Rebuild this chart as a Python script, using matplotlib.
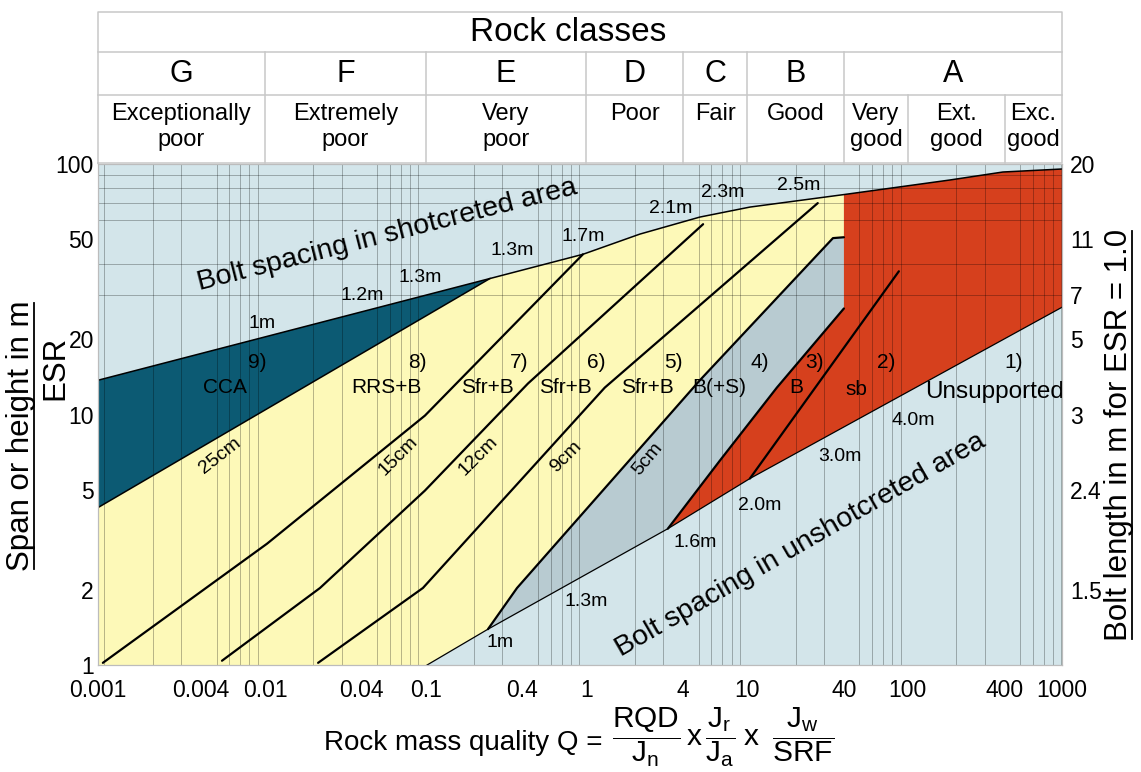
import matplotlib
matplotlib.use('Agg')
import matplotlib.pyplot as plt
from matplotlib.ticker import FixedLocator, FixedFormatter, NullFormatter

plt.rcParams['font.family'] = ['Liberation Sans', 'DejaVu Sans']
plt.rcParams['mathtext.fontset'] = 'custom'
plt.rcParams['mathtext.rm'] = 'Liberation Sans'
plt.rcParams['mathtext.it'] = 'Liberation Sans:italic'
plt.rcParams['mathtext.bf'] = 'Liberation Sans:bold'

W, H = 1141, 772

# Q at the left / right frame edge, span/ESR at bottom / top
Q_MIN, Q_MAX = 0.000914, 910
S_MIN, S_MAX = 1, 100

# upper boundary (bolt spacing in shotcreted area)
top_q = [Q_MIN, 0.251, 0.951, 2.15, 5.08, 10.4, 40, 182, 390, Q_MAX]
top_s = [13.7, 34.9, 43.6, 52.5, 61.4, 67.3, 75.5, 86.3, 92.9, 95.5]
# lower edge of the CCA zone
cca_q = [Q_MIN, 0.251]
cca_s = [4.25, 34.9]
# lower boundary (bolt spacing in unshotcreted area)
low_q = [0.102, 0.244, 3.21, 10.4, Q_MAX]
low_s = [1.0, 1.39, 3.5, 5.55, 26.8]
# shotcrete thickness lines
l15_q = [0.00098, 0.0103, 0.0989, 0.951]
l15_s = [1.02, 3.05, 9.9, 43.6]
l12_q = [0.0054, 0.022, 0.0989, 0.433, 5.32]
l12_s = [1.04, 2.03, 4.97, 13.3, 57.5]
l9_q = [0.0214, 0.0961, 1.30, 27.5]
l9_s = [1.02, 2.03, 12.8, 69.8]
l5_q = [0.244, 0.37, 5.08, 34.2, 40]
l5_s = [1.39, 2.03, 13.7, 50.6, 51.0]
# systematic bolting (3) and spot bolting (2)
b_q = [3.21, 6.77, 15.3, 40]
b_s = [3.5, 6.55, 12.8, 26.5]
sb_q = [10.4, 87.9]
sb_s = [5.55, 37.3]

# axis ticks
x_ticks = [Q_MIN, 0.004, 0.01, 0.04, 0.1, 0.4, 1, 4, 10, 40, 100, 400, Q_MAX]
x_labels = ['0.001', '0.004', '0.01', '0.04', '0.1', '0.4', '1', '4', '10', '40', '100', '400', '1000']
y_ticks = [1, 2, 5, 10, 20, 50, 100]
y_grid = [2, 5, 10, 20, 30, 40, 50, 60, 70, 80, 90]
bolt_pos = [2, 5, 10, 20, 30, 50, 100]
bolt_len = ['1.5', '2.4', '3', '5', '7', '11', '20']

# rock class header
class_edges = [Q_MIN, 0.01, 0.1, 1, 4, 10, 40, Q_MAX]
class_letters = ['G', 'F', 'E', 'D', 'C', 'B', 'A']
desc_edges = [Q_MIN, 0.01, 0.1, 1, 4, 10, 40, 100, 400, Q_MAX]
desc_labels = ['Exceptionally\npoor', 'Extremely\npoor', 'Very\npoor', 'Poor', 'Fair',
               'Good', 'Very\ngood', 'Ext.\ngood', 'Exc.\ngood']

BG = '#d3e5ea'
TEAL = '#0c5a73'
YELLOW = '#fdf9b8'
GREY = '#b8cbd1'
RED = '#d6401d'

fig = plt.figure(figsize=(W / 100, H / 100), dpi=100)
ax = fig.add_axes([98 / W, (H - 665) / H, 964 / W, 501 / H])
ax.set_xscale('log')
ax.set_yscale('log')
ax.set_xlim(Q_MIN, Q_MAX)
ax.set_ylim(S_MIN, S_MAX)
ax.set_facecolor(BG)

# zones
ax.fill(cca_q[:1] + top_q[:2], cca_s[:1] + top_s[:2], color=TEAL, lw=0)
ax.fill(top_q[1:7] + l5_q[::-1] + [low_q[0], Q_MIN, Q_MIN],
        top_s[1:7] + l5_s[::-1] + [low_s[0], S_MIN, cca_s[0]], color=YELLOW, lw=0)
ax.fill(l5_q + b_q[::-1], l5_s + b_s[::-1], color=GREY, lw=0)
ax.fill(b_q + top_q[6:] + low_q[2:][::-1], b_s + top_s[6:] + low_s[2:][::-1], color=RED, lw=0)

# boundary lines
ax.plot(top_q, top_s, color='k', lw=1.1)
ax.plot(low_q, low_s, color='k', lw=0.9)
ax.plot(cca_q, cca_s, color='k', lw=1.1)
for qs, ss in [(l15_q, l15_s), (l12_q, l12_s), (l9_q, l9_s), (l5_q, l5_s), (b_q, b_s), (sb_q, sb_s)]:
    ax.plot(qs, ss, color='k', lw=1.6, solid_capstyle='round')

# grid
minor_x = [m * 10.0 ** e for e in range(-4, 3) for m in range(1, 10)]
minor_x = [q for q in minor_x if Q_MIN < q < Q_MAX]
ax.xaxis.set_minor_locator(FixedLocator(minor_x))
ax.yaxis.set_minor_locator(FixedLocator(y_grid))
ax.xaxis.set_minor_formatter(NullFormatter())
ax.yaxis.set_minor_formatter(NullFormatter())
ax.grid(True, which='minor', color='k', alpha=0.28, lw=0.7)

ax.set_xticks(x_ticks)
ax.set_xticklabels(x_labels)
ax.set_yticks(y_ticks)
ax.set_yticklabels([str(v) for v in y_ticks])
ax.tick_params(which='both', length=0)
ax.tick_params(axis='x', labelsize=16.5, pad=10)
ax.tick_params(axis='y', labelsize=16.5, pad=3)
for sp in ax.spines.values():
    sp.set_color('#bcbcbc')

ax2 = ax.twinx()
ax2.set_yscale('log')
ax2.set_ylim(S_MIN, S_MAX)
ax2.yaxis.set_major_locator(FixedLocator(bolt_pos))
ax2.yaxis.set_major_formatter(FixedFormatter(bolt_len))
ax2.yaxis.set_minor_formatter(NullFormatter())
ax2.tick_params(which='both', length=0, labelsize=16.5, pad=6)
for sp in ax2.spines.values():
    sp.set_color('#bcbcbc')

# labels inside the chart
spacing_labels = [('1m', 0.00954, 23.1), ('1.2m', 0.040, 29.9), ('1.3m', 0.092, 35.3),
                  ('1.3m', 0.3455, 45.3), ('1.7m', 0.955, 51.5), ('2.1m', 3.34, 66.5),
                  ('2.3m', 7.0, 77.1), ('2.5m', 21.0, 82.4),
                  ('1m', 0.29, 1.228), ('1.3m', 1.0, 1.80), ('1.6m', 4.73, 3.085),
                  ('2.0m', 12.0, 4.325), ('3.0m', 37.8, 6.8), ('4.0m', 108, 9.46)]
for txt, q, s in spacing_labels:
    ax.text(q, s, txt, fontsize=14, ha='center', va='center')

class_labels = [('9)', 0.00892, 16.1), ('CCA', 0.00564, 12.8), ('8)', 0.0882, 16.1),
                ('RRS+B', 0.0572, 12.8), ('7)', 0.382, 16.1), ('Sfr+B', 0.2415, 12.8),
                ('6)', 1.157, 16.1), ('Sfr+B', 0.735, 12.8), ('5)', 3.47, 16.1),
                ('Sfr+B', 2.39, 12.8), ('4)', 12.0, 16.1), ('B(+S)', 6.66, 12.8),
                ('3)', 26.2, 16.1), ('B', 20.1, 12.8), ('2)', 73.7, 16.1), ('sb', 48.0, 12.56),
                ('1)', 452, 16.1)]
for txt, q, s in class_labels:
    ax.text(q, s, txt, fontsize=15, ha='center', va='center')
ax.text(348, 12.3, 'Unsupported', fontsize=17.5, ha='center', va='center')

thick_labels = [('25cm', 0.00525, 6.85, 38), ('15cm', 0.0675, 6.85, 45),
                ('12cm', 0.2123, 6.85, 45), ('9cm', 0.7423, 6.8, 45), ('5cm', 2.42, 6.65, 50)]
for txt, q, s, rot in thick_labels:
    ax.text(q, s, txt, fontsize=14, ha='center', va='center', rotation=rot,
            rotation_mode='anchor')

ax.text(0.0574, 52.0, 'Bolt spacing in shotcreted area', fontsize=20.5, ha='center',
        va='center', rotation=14.3, rotation_mode='anchor')
ax.text(21.4, 3.02, 'Bolt spacing in unshotcreted area', fontsize=20.5, ha='center',
        va='center', rotation=30, rotation_mode='anchor')

# header table
hx = fig.add_axes([98 / W, (H - 163) / H, 964 / W, 151 / H])
hx.set_xscale('log')
hx.set_xlim(Q_MIN, Q_MAX)
hx.set_ylim(0, 1)
hx.axis('off')
ROW_DESC, ROW_LET = 0.45, 0.735
lkw = dict(color='#c8c8c8', lw=1.1, clip_on=False)
hx.plot([Q_MIN, Q_MAX, Q_MAX, Q_MIN, Q_MIN], [0, 0, 1, 1, 0], **lkw)
hx.plot([Q_MIN, Q_MAX], [ROW_DESC, ROW_DESC], **lkw)
hx.plot([Q_MIN, Q_MAX], [ROW_LET, ROW_LET], **lkw)
for q in class_edges[1:-1]:
    hx.plot([q, q], [0, ROW_LET], **lkw)
for q in desc_edges[7:-1]:
    hx.plot([q, q], [0, ROW_DESC], **lkw)
hx.text((Q_MIN * Q_MAX) ** 0.5 * 0.85, 0.862, 'Rock classes', fontsize=24, ha='center', va='center')
for i, let in enumerate(class_letters):
    qc = (class_edges[i] * class_edges[i + 1]) ** 0.5
    hx.text(qc, 0.59, let, fontsize=22, ha='center', va='center')
for i, d in enumerate(desc_labels):
    qc = (desc_edges[i] * desc_edges[i + 1]) ** 0.5
    hx.text(qc, 0.395, d, fontsize=17, ha='center', va='top', linespacing=1.22)

# axis titles
span_t = fig.text(21 / W, 0.435, 'Span or height in m', fontsize=22.5, rotation=90,
                  ha='center', va='center')
fig.text(55 / W, 0.523, 'ESR', fontsize=22.5, rotation=90, ha='center', va='center')
bolt_t = fig.text(1119 / W, 0.4365, 'Bolt length in m for ESR = 1.0', fontsize=22.5,
                  rotation=90, ha='center', va='center')
base_y = (H - 750) / H
q_t = fig.text(324 / W, base_y, 'Rock mass quality Q =', fontsize=20, ha='left', va='baseline')

fig.canvas.draw()
rend = fig.canvas.get_renderer()
x_eq = q_t.get_window_extent(rend).x1
fig.text((x_eq + 10) / W, base_y + 3 / H,
         r'$\dfrac{\mathrm{RQD}}{\mathrm{J}_\mathrm{n}}\,\mathrm{x}\,'
         r'\dfrac{\mathrm{J}_\mathrm{r}}{\mathrm{J}_\mathrm{a}}\;\mathrm{x}\;\;'
         r'\dfrac{\mathrm{J}_\mathrm{w}}{\mathrm{SRF}}$',
         fontsize=21.5, ha='left', va='baseline')

# underline the two rotated titles
for t in (span_t, bolt_t):
    bb = t.get_window_extent(rend).transformed(fig.transFigure.inverted())
    xu = bb.x1 - 2 / W
    fig.add_artist(plt.Line2D([xu, xu], [bb.y0 + 2 / H, bb.y1 - 2 / H], color='k', lw=1.3,
                              transform=fig.transFigure))

fig.savefig('out.png', dpi=100)
